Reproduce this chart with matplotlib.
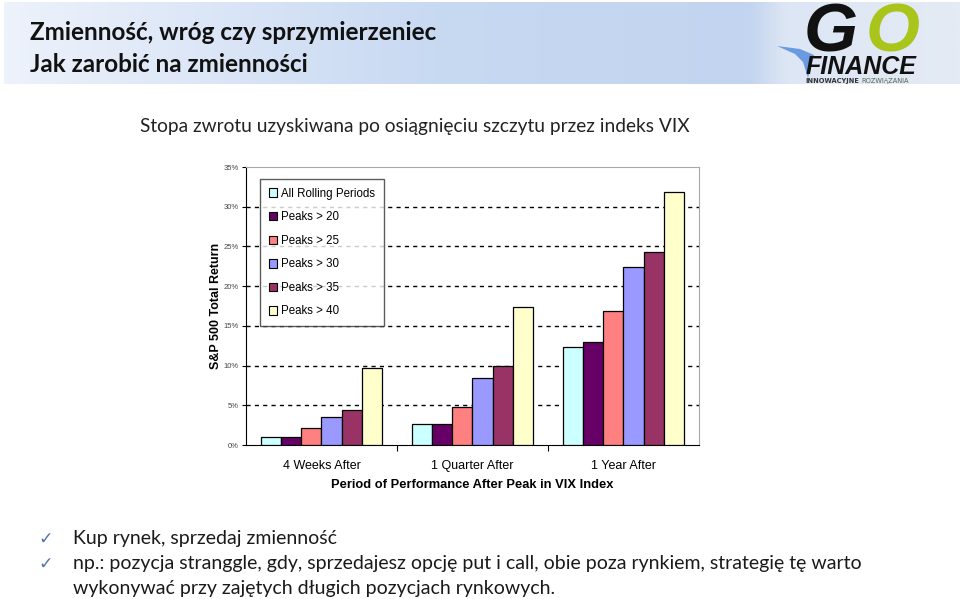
import numpy as np
import matplotlib
matplotlib.use('Agg')
import matplotlib.pyplot as plt
from matplotlib.colors import LinearSegmentedColormap
from matplotlib.patches import Patch, Polygon

# Chart data (S&P 500 total return after a VIX peak, in %)
categories = ['4 Weeks After', '1 Quarter After', '1 Year After']
series_names = ['All Rolling Periods', 'Peaks > 20', 'Peaks > 25',
                'Peaks > 30', 'Peaks > 35', 'Peaks > 40']
all_rolling = [1.0, 2.6, 12.3]
peaks_20 = [1.0, 2.6, 13.0]
peaks_25 = [2.1, 4.8, 16.9]
peaks_30 = [3.5, 8.4, 22.4]
peaks_35 = [4.4, 9.9, 24.3]
peaks_40 = [9.7, 17.4, 31.9]
y_ticks = [0, 5, 10, 15, 20, 25, 30, 35]

series_colors = ['#ccffff', '#660066', '#ff8080', '#9999ff', '#993366', '#ffffcc']

# Slide texts
title_lines = ['Zmienność, wróg czy sprzymierzeniec', 'Jak zarobić na zmienności']
subtitle = 'Stopa zwrotu uzyskiwana po osiągnięciu szczytu przez indeks VIX'
bullets = ['Kup rynek, sprzedaj zmienność',
           'np.: pozycja stranggle, gdy, sprzedajesz opcję put i call, obie poza rynkiem, strategię tę warto',
           'wykonywać przy zajętych długich pozycjach rynkowych.']

W, H = 960, 599
fig = plt.figure(figsize=(W / 100, H / 100), dpi=100)
fig.patch.set_facecolor('white')

# Background axes in pixel coordinates for the slide decoration
bg = fig.add_axes([0, 0, 1, 1], zorder=0)
bg.set_xlim(0, W)
bg.set_ylim(H, 0)
bg.axis('off')

# Header band with gradient
band_cmap = LinearSegmentedColormap.from_list(
    'band', [(0.0, '#edf2fb'), (0.45, '#c8d9f2'), (0.78, '#c2d4ef'),
             (0.82, '#dde6f4'), (1.0, '#e4ebf5')])
grad = np.linspace(0, 1, 512).reshape(1, -1)
bg.imshow(grad, cmap=band_cmap, aspect='auto', extent=[4, W, 84, 2], zorder=0)

body_font = ['Lato', 'DejaVu Sans']
bg.text(30, 40, title_lines[0], fontsize=17.5, fontweight='bold', family=body_font,
        color='#111111', va='baseline')
bg.text(30, 72, title_lines[1], fontsize=17.5, fontweight='bold', family=body_font,
        color='#111111', va='baseline')

# Logo
swoosh = Polygon([(777, 46), (800, 49), (814, 55), (808, 78), (803, 62), (795, 54)],
                 closed=True, facecolor='#6a9be0', edgecolor='none', zorder=2)
bg.add_patch(swoosh)
bg.text(804, 52, 'G', fontsize=50, fontweight='bold', style='italic',
        family='Liberation Sans', color='#111111', va='baseline')
bg.text(866, 52, 'O', fontsize=50, fontweight='bold', style='italic',
        family='Liberation Sans', color='#a9c51c', va='baseline')
bg.text(806, 74, 'FINANCE', fontsize=18, fontweight='bold', style='italic',
        family='Liberation Sans', color='#111111', va='baseline')
bg.text(859, 83, 'INNOWACYJNE', fontsize=4.8, fontweight='bold',
        family='DejaVu Sans', color='#333333', va='baseline', ha='right')
bg.text(861, 83, 'ROZWIĄZANIA', fontsize=4.8,
        family='DejaVu Sans', color='#556655', va='baseline')

bg.text(140, 132, subtitle, fontsize=13.8, family=body_font, color='#222222', va='baseline')

check_ys = [544, 569]
for y in check_ys:
    bg.text(38, y, '\u2713', fontsize=12.5, family='DejaVu Sans', color='#4f73a6', va='baseline')
bg.text(73, 544, bullets[0], fontsize=14.0, family=body_font, color='#1a1a1a', va='baseline')
bg.text(73, 569, bullets[1], fontsize=14.0, family=body_font, color='#1a1a1a', va='baseline')
bg.text(73, 594, bullets[2], fontsize=14.0, family=body_font, color='#1a1a1a', va='baseline')

# Chart axes
ax = fig.add_axes([246 / W, 1 - 445 / H, 453 / W, 278 / H], zorder=1)
ax.set_facecolor('white')

all_series = [all_rolling, peaks_20, peaks_25, peaks_30, peaks_35, peaks_40]
x = np.arange(len(categories))
w = 0.1325
for i, (vals, color, name) in enumerate(zip(all_series, series_colors, series_names)):
    ax.bar(x + (i - 2.5) * w, vals, w, color=color, edgecolor='black',
           linewidth=0.9, label=name, zorder=3)

ax.set_xlim(-0.5, 2.5)
ax.set_ylim(0, 35)
for t in y_ticks[1:-1]:
    ax.axhline(t, color='black', linestyle=(0, (3, 3)), linewidth=1, zorder=1)

ax.set_yticks(y_ticks)
ax.set_yticklabels([f'{t}%' for t in y_ticks], fontsize=5.5, color='#444444',
                   family='Liberation Sans')
ax.tick_params(axis='y', direction='out', length=3, width=0.8, pad=2)

ax.set_xticks(x)
ax.set_xticklabels(categories, fontsize=9, family='Liberation Sans')
ax.tick_params(axis='x', length=0, pad=11)
ax.set_xticks([0.5, 1.5], minor=True)
ax.tick_params(axis='x', which='minor', direction='out', length=4, width=0.8)

ax.set_xlabel('Period of Performance After Peak in VIX Index', fontsize=9.3,
              fontweight='bold', family='Liberation Sans', labelpad=5)
ax.set_ylabel('S&P 500 Total Return', fontsize=9, fontweight='bold',
              family='Liberation Sans', labelpad=1)

ax.spines['left'].set_color('black')
ax.spines['bottom'].set_color('black')
ax.spines['top'].set_color('#a8a8a8')
ax.spines['right'].set_color('#a8a8a8')

handles = [Patch(facecolor=c, edgecolor='black', linewidth=0.8) for c in series_colors]
leg = ax.legend(handles, series_names, loc='upper left', bbox_to_anchor=(0.031, 0.957),
                borderaxespad=0, fancybox=False, frameon=True,
                prop={'family': 'Liberation Sans', 'size': 8.3},
                handlelength=0.75, handleheight=0.75, handletextpad=0.3,
                labelspacing=1.0, borderpad=0.76)
leg.get_frame().set_edgecolor('#333333')
leg.get_frame().set_linewidth(1)

fig.savefig('out.png', dpi=100)
